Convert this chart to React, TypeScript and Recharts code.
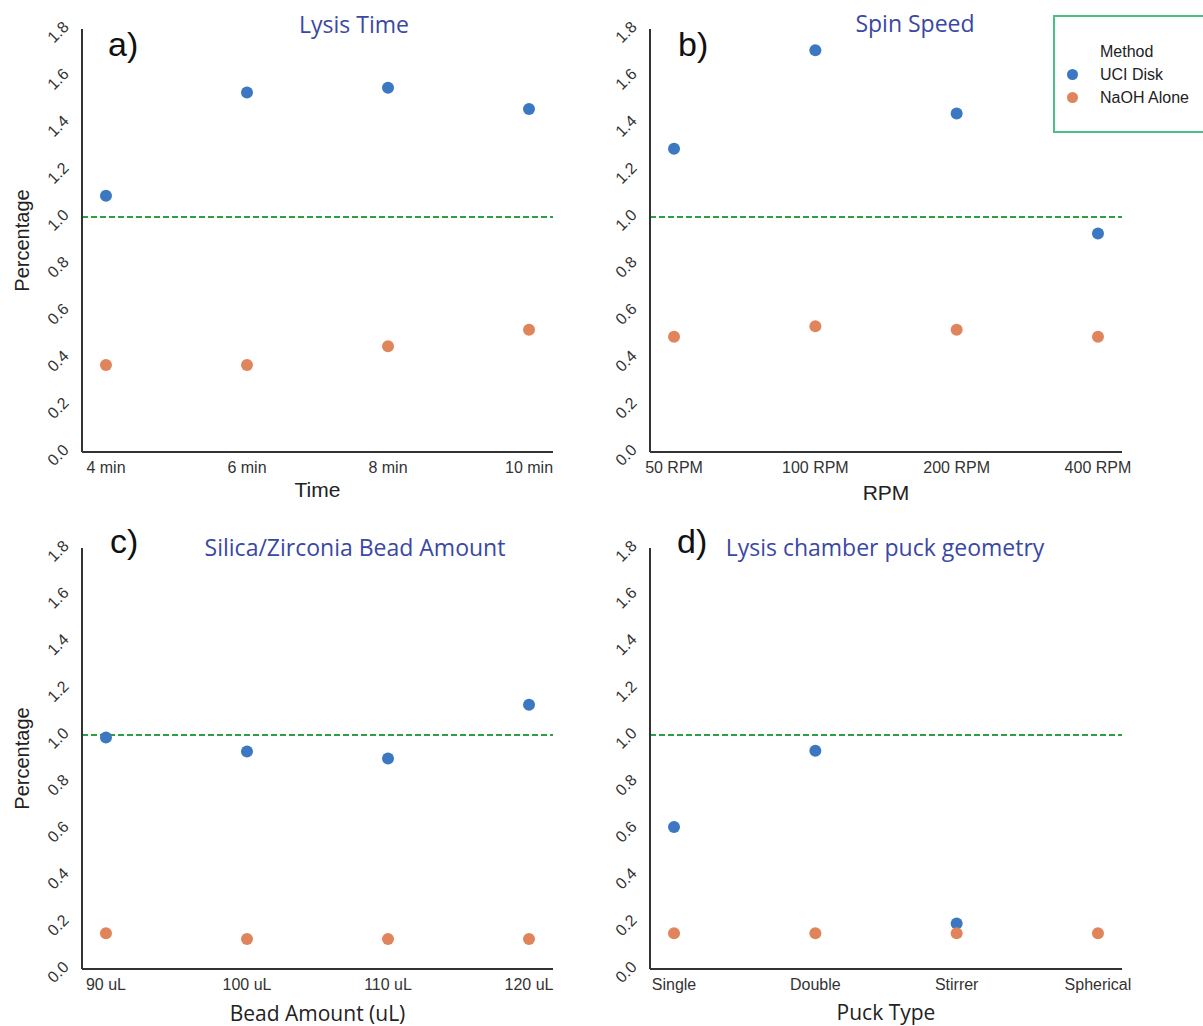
import React from 'react';
import { ScatterChart, Scatter, XAxis, YAxis, ReferenceLine } from 'recharts';

// values
const timeLabels = ['4 min', '6 min', '8 min', '10 min'];
const timeUci = [1.09, 1.53, 1.55, 1.46];
const timeNaoh = [0.37, 0.37, 0.45, 0.52];

const rpmLabels = ['50 RPM', '100 RPM', '200 RPM', '400 RPM'];
const rpmUci = [1.29, 1.71, 1.44, 0.93];
const rpmNaoh = [0.49, 0.535, 0.52, 0.49];

const beadLabels = ['90 uL', '100 uL', '110 uL', '120 uL'];
const beadUci = [0.99, 0.93, 0.90, 1.13];
const beadNaoh = [0.153, 0.128, 0.128, 0.128];

const puckLabels = ['Single', 'Double', 'Stirrer', 'Spherical'];
const puckUci: (number | null)[] = [0.607, 0.933, 0.195, null];
const puckNaoh = [0.153, 0.153, 0.153, 0.153];

const yTicks = [0, 0.2, 0.4, 0.6, 0.8, 1.0, 1.2, 1.4, 1.6, 1.8];

const BLUE = '#3b78c1';
const ORANGE = '#e0855b';
const GREEN = '#2f9e44';
const TITLE_BLUE = '#3a48a3';
const AXIS = '#333';
const SANS = '"Liberation Sans", Arial, sans-serif';
const TITLE_FONT = '"Open Sans", "Noto Sans", sans-serif';

function toPoints(vals: (number | null)[]) {
  return vals
    .map((v, i) => ({ x: i, y: v }))
    .filter(p => p.y !== null);
}

const dot = (color: string) => (p: any) => <circle cx={p.cx} cy={p.cy} r={6} fill={color} />;

const YTick = (props: any) => {
  const { x, y, payload } = props;
  const cx = x - 24;
  const cy = y + 3;
  return (
    <text
      x={cx}
      y={cy}
      textAnchor="middle"
      dominantBaseline="central"
      transform={`rotate(-45, ${cx}, ${cy})`}
      fontSize={16}
      fontFamily={SANS}
      fill="#333"
    >
      {Number(payload.value).toFixed(1)}
    </text>
  );
};

interface PanelProps {
  left: number;
  top: number;
  height: number;
  x0: number;
  x1: number;
  y1: number;
  labels: string[];
  uci: (number | null)[];
  naoh: number[];
  xLabel: string;
  xLabelFont: string;
  xAxisHeight: number;
  showYLabel: boolean;
}

function Panel({ left, top, height, x0, x1, y1, labels, uci, naoh, xLabel, xLabelFont, xAxisHeight, showYLabel }: PanelProps) {
  const width = 600;
  return (
    <div style={{ position: 'absolute', left, top }}>
      <ScatterChart
        width={width}
        height={height}
        margin={{ top: 29, right: width - x1, bottom: height - y1 - xAxisHeight, left: 0 }}
      >
        <XAxis
          type="number"
          dataKey="x"
          domain={[-0.17, 3.17]}
          ticks={[0, 1, 2, 3]}
          tickFormatter={(v: number) => labels[v] ?? ''}
          tickLine={false}
          tickSize={0}
          tickMargin={10}
          height={xAxisHeight}
          axisLine={{ stroke: AXIS, strokeWidth: 2 }}
          tick={{ fontSize: 16, fontFamily: SANS, fill: '#333' }}
          allowDataOverflow
          label={{
            value: xLabel,
            position: 'insideBottom',
            offset: 0,
            style: { fontSize: 21, fontFamily: xLabelFont, fill: '#222' },
          }}
        />
        <YAxis
          type="number"
          dataKey="y"
          width={x0}
          domain={[0, 1.8]}
          ticks={yTicks}
          tickLine={false}
          tickSize={0}
          tickMargin={0}
          axisLine={{ stroke: AXIS, strokeWidth: 2 }}
          tick={<YTick />}
          label={
            showYLabel
              ? {
                  content: (p: any) => {
                    const vb = p.viewBox;
                    const cy = vb.y + vb.height / 2;
                    return (
                      <text
                        x={22}
                        y={cy}
                        textAnchor="middle"
                        dominantBaseline="central"
                        transform={`rotate(-90, 22, ${cy})`}
                        fontSize={20}
                        fontFamily={SANS}
                        fill="#222"
                      >
                        Percentage
                      </text>
                    );
                  },
                }
              : undefined
          }
        />
        <ReferenceLine y={1} stroke={GREEN} strokeWidth={2} strokeDasharray="6 3" />
        <Scatter name="UCI Disk" data={toPoints(uci)} fill={BLUE} shape={dot(BLUE)} isAnimationActive={false} />
        <Scatter name="NaOH Alone" data={toPoints(naoh)} fill={ORANGE} shape={dot(ORANGE)} isAnimationActive={false} />
      </ScatterChart>
    </div>
  );
}

const abs = (left: number, top: number, extra: React.CSSProperties = {}): React.CSSProperties => ({
  position: 'absolute',
  left,
  top,
  whiteSpace: 'nowrap',
  lineHeight: 1,
  ...extra,
});

const titleStyle: React.CSSProperties = { fontFamily: TITLE_FONT, fontSize: 23, color: TITLE_BLUE, transform: 'translateX(-50%)' };
const letterStyle: React.CSSProperties = { fontFamily: SANS, fontSize: 34, color: '#111' };

export default function App() {
  return (
    <div style={{ position: 'absolute', left: 0, top: 0, width: 1203, height: 1026, overflow: 'hidden', background: '#fff' }}>
      <Panel left={0} top={0} height={513} x0={82} x1={553} y1={452} labels={timeLabels} uci={timeUci} naoh={timeNaoh}
        xLabel="Time" xLabelFont={SANS} xAxisHeight={45} showYLabel />
      <Panel left={600} top={0} height={513} x0={50} x1={522} y1={452} labels={rpmLabels} uci={rpmUci} naoh={rpmNaoh}
        xLabel="RPM" xLabelFont={SANS} xAxisHeight={48} showYLabel={false} />
      <Panel left={0} top={519} height={507} x0={82} x1={553} y1={450} labels={beadLabels} uci={beadUci} naoh={beadNaoh}
        xLabel="Bead Amount (uL)" xLabelFont={TITLE_FONT} xAxisHeight={52} showYLabel />
      <Panel left={600} top={519} height={507} x0={50} x1={522} y1={450} labels={puckLabels} uci={puckUci} naoh={puckNaoh}
        xLabel="Puck Type" xLabelFont={TITLE_FONT} xAxisHeight={51} showYLabel={false} />

      <div style={abs(354, 13, titleStyle)}>Lysis Time</div>
      <div style={abs(915, 12, titleStyle)}>Spin Speed</div>
      <div style={abs(355, 536, titleStyle)}>Silica/Zirconia Bead Amount</div>
      <div style={abs(885, 536, titleStyle)}>Lysis chamber puck geometry</div>

      <div style={abs(108, 27, letterStyle)}>a)</div>
      <div style={abs(678, 27, letterStyle)}>b)</div>
      <div style={abs(110, 524, letterStyle)}>c)</div>
      <div style={abs(677, 524, letterStyle)}>d)</div>

      <div
        style={abs(1053, 15, {
          width: 170,
          height: 114,
          border: '2px solid #4cbf86',
          fontFamily: SANS,
          fontSize: 16,
          color: '#222',
        })}
      >
        <div style={abs(45, 27)}>Method</div>
        {[
          { name: 'UCI Disk', color: BLUE },
          { name: 'NaOH Alone', color: ORANGE },
        ].map((item, i) => (
          <div key={item.name}>
            <div style={abs(12, 52 + i * 23, { width: 11, height: 11, borderRadius: '50%', background: item.color })} />
            <div style={abs(45, 50 + i * 23)}>{item.name}</div>
          </div>
        ))}
      </div>
    </div>
  );
}
